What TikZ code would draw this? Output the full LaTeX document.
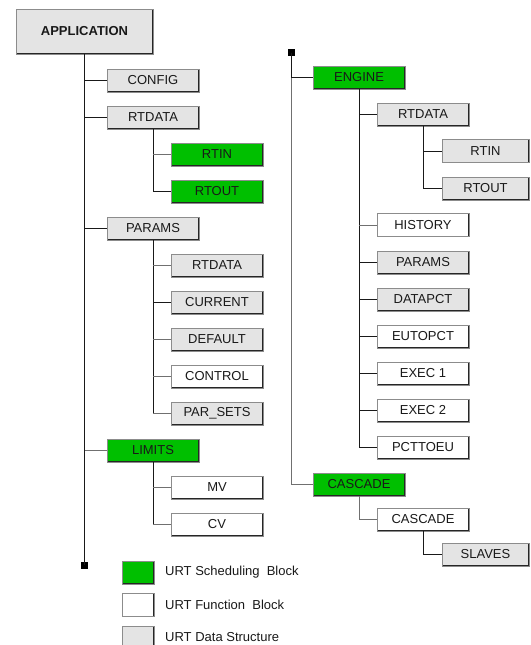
\documentclass[tikz,border=0pt]{standalone}
\usepackage{fontspec}
\setmainfont{Liberation Sans}
\definecolor{sched}{HTML}{00BF00}
\definecolor{datast}{HTML}{E4E4E4}
\definecolor{linkgray}{HTML}{707070}
\tikzset{
  blk/.style={draw=black!45, line width=0.8pt, minimum width=92pt, minimum height=23pt,
    inner sep=0pt, text=black!90, font=\fontsize{13}{15}\selectfont,
    path picture={\draw[black!85,line width=1.6pt]
      (path picture bounding box.south west) -- (path picture bounding box.south east)
      -- (path picture bounding box.north east);}},
  sblk/.style={blk, fill=sched},
  fblk/.style={blk, fill=white},
  dblk/.style={blk, fill=datast},
  link/.style={line width=1pt, black!90},
  glink/.style={line width=1pt, linkgray},
  endsq/.style={fill=black, minimum size=7pt, inner sep=0pt, draw=none},
  keytext/.style={anchor=west, inner sep=0pt, text=black!90, font=\fontsize{13}{15}\selectfont},
}
\begin{document}
\begin{tikzpicture}[x=1pt,y=-1pt]
\clip (0,0) rectangle (530,645);

% ---------- left tree ----------
\node[dblk, minimum width=137pt, minimum height=45pt,
      font=\bfseries\fontsize{13}{15}\selectfont] (app) at (84.5,31.5) {APPLICATION};
\node[dblk] (config)  at (153,80.5)  {CONFIG};
\node[dblk] (ldata)   at (153,117.5) {RTDATA};
\node[sblk] (lrtin)   at (217,154.5) {RTIN};
\node[sblk] (lrtout)  at (217,191.5) {RTOUT};
\node[dblk] (lparams) at (153,228.5) {PARAMS};
\node[dblk] (prt)     at (217,265.5) {RTDATA};
\node[dblk] (pcur)    at (217,302.5) {CURRENT};
\node[dblk] (pdef)    at (217,339.5) {DEFAULT};
\node[fblk] (pctl)    at (217,376.5) {CONTROL};
\node[dblk] (psets)   at (217,413.5) {PAR\_SETS};
\node[sblk] (limits)  at (153,450.5) {LIMITS};
\node[fblk] (mv)      at (217,487.5) {MV};
\node[fblk] (cv)      at (217,524.5) {CV};
\node[endsq] (lend)   at (84.5,565) {};

\draw[link] (app.south) -- (lend.center);
\draw[link] (config.west) -- (config.west -| app.south);
\draw[link] (ldata.west) -- (ldata.west -| app.south);
\draw[link] (lparams.west) -- (lparams.west -| app.south);
\draw[glink] (limits.west) -- (limits.west -| app.south);

\draw[link] (ldata.south) |- (lrtout.west);
\draw[glink] (lrtin.west) -- (lrtin.west -| ldata.south);

\draw[link] (lparams.south) |- (psets.west);
\draw[glink] (psets.west) -- ++(-18,0);
\draw[glink] (prt.west) -- (prt.west -| lparams.south);
\draw[link] (pcur.west) -- (pcur.west -| lparams.south);
\draw[glink] (pdef.west) -- (pdef.west -| lparams.south);
\draw[glink] (pctl.west) -- (pctl.west -| lparams.south);

\draw[link] (limits.south) |- (cv.west);
\draw[glink] (cv.west) -- ++(-18,0);
\draw[glink] (mv.west) -- (mv.west -| limits.south);

% ---------- right tree ----------
\node[endsq] (rend)   at (291,52.5)  {};
\node[sblk] (engine)  at (359,77.5)  {ENGINE};
\node[dblk] (rdata)   at (423,114.5) {RTDATA};
\node[dblk, minimum width=87pt] (rrtin)  at (485.5,151)   {RTIN};
\node[dblk, minimum width=87pt] (rrtout) at (485.5,188.5) {RTOUT};
\node[fblk] (hist)    at (423,225)   {HISTORY};
\node[dblk] (rpar)    at (423,262.5) {PARAMS};
\node[dblk] (dpct)    at (423,299.5) {DATAPCT};
\node[fblk] (eupct)   at (423,336.5) {EUTOPCT};
\node[fblk] (ex1)     at (423,373.5) {EXEC 1};
\node[fblk] (ex2)     at (423,410.5) {EXEC 2};
\node[fblk] (pcte)    at (423,447.5) {PCTTOEU};
\node[sblk] (casc)    at (359,484.5) {CASCADE};
\node[fblk] (casf)    at (423,519.5) {CASCADE};
\node[dblk, minimum width=87pt] (slaves) at (485.5,554.5) {SLAVES};

\draw[glink] (rend.center) |- (casc.west);
\draw[link] (rend.center) |- (engine.west);

\draw[link] (engine.south) |- (pcte.west);
\draw[link] (rdata.west) -- (rdata.west -| engine.south);
\draw[glink] (hist.west) -- (hist.west -| engine.south);
\draw[link] (rpar.west) -- (rpar.west -| engine.south);
\draw[link] (dpct.west) -- (dpct.west -| engine.south);
\draw[link] (eupct.west) -- (eupct.west -| engine.south);
\draw[link] (ex1.west) -- (ex1.west -| engine.south);
\draw[link] (ex2.west) -- (ex2.west -| engine.south);

\draw[link] (rdata.south) |- (rrtout.west);
\draw[link] (rrtin.west) -- (rrtin.west -| rdata.south);

\draw[glink] (casc.south) |- (casf.west);
\draw[link] (casf.south) |- (slaves.west);

% ---------- legend ----------
\node[sblk, minimum width=32pt] (k1) at (138,572.5) {};
\node[fblk, minimum width=32pt] (k2) at (138,605)   {};
\node[dblk, minimum width=32pt] (k3) at (138,637.5) {};
\node[keytext] (k1t) at (165,572.5) {URT Scheduling~ Block};
\node[keytext] (k2t) at (165,605)   {URT Function~ Block};
\node[keytext] (k3t) at (165,637.5) {URT Data Structure};
\end{tikzpicture}
\end{document}
